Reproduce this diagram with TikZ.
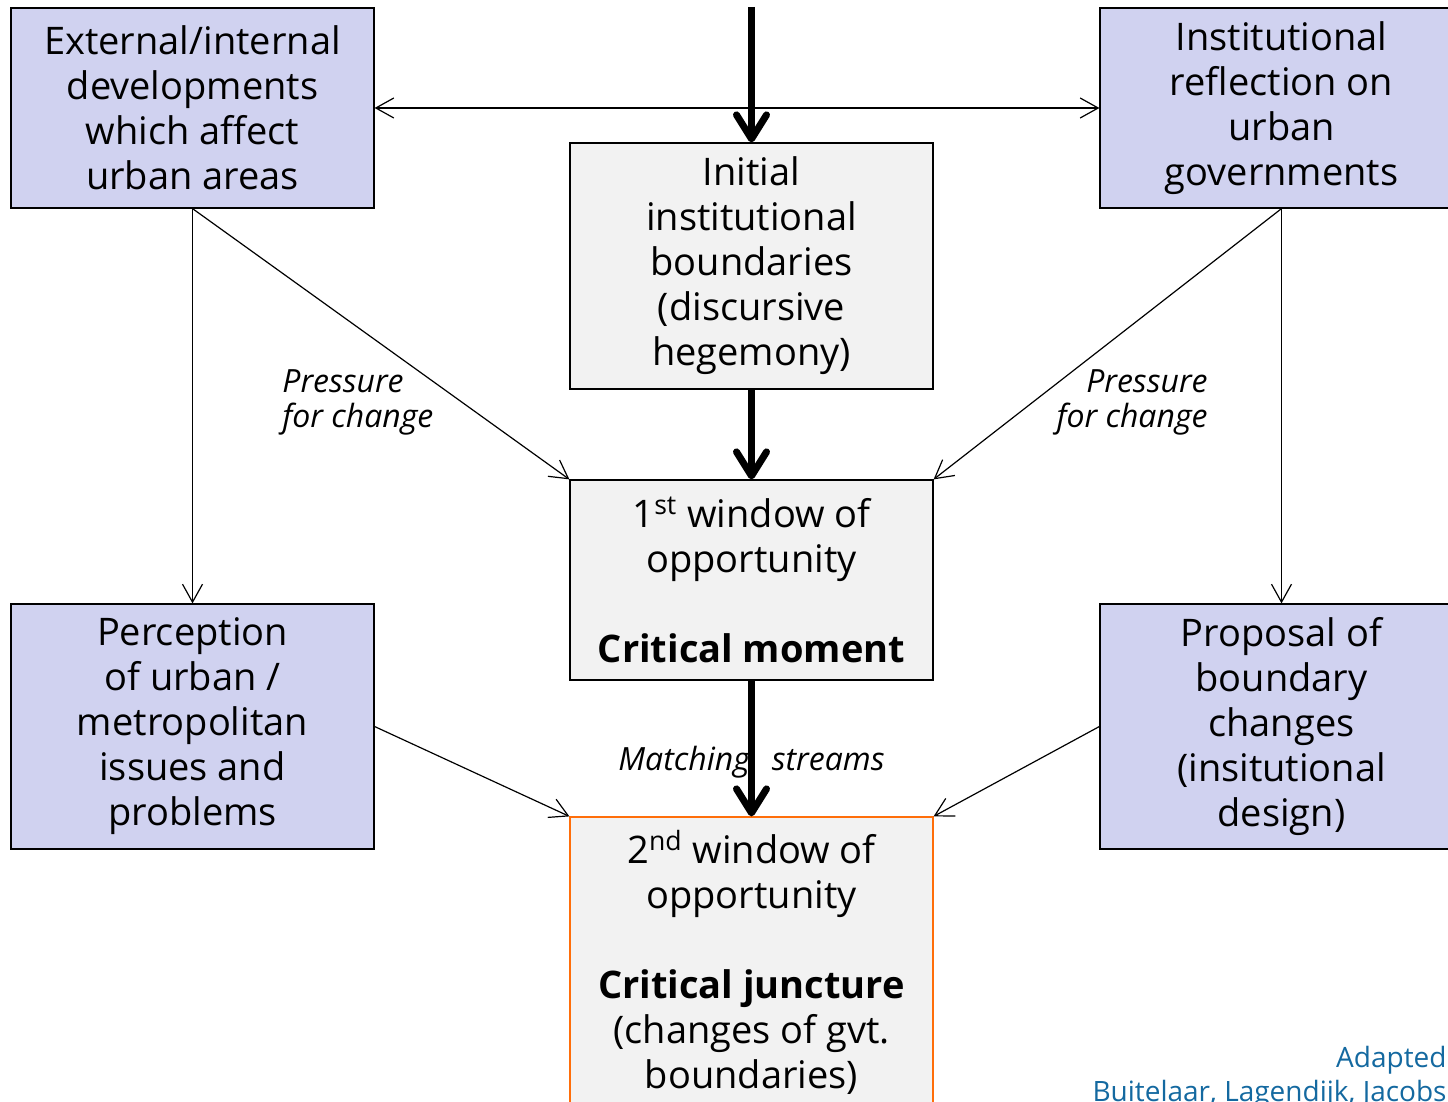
\documentclass[tikz,border=0pt]{standalone}
\usepackage{fontspec}
\setmainfont{Open Sans}
\usepackage{tikz}
\usetikzlibrary{arrows.meta, positioning, calc}
\definecolor{lilita}{RGB}{208,210,240}
\definecolor{grisito}{RGB}{242,242,242}
\definecolor{naranjita}{RGB}{255,110,10}
\definecolor{azulito}{RGB}{20,105,160}
\tikzset{>={Straight Barb[length=9pt,width=10pt]}}
\tikzset{caja/.style={draw=black, line width=0.6pt, minimum width=181.5pt, inner sep=0pt, align=center, font=\fontsize{19}{22.5}\selectfont},
	cajalila/.style={caja, fill=lilita},
	cajagris/.style={caja, fill=grisito},
	flechita/.style={->, line width=0.6pt},
	flechota/.style={-{Straight Barb[length=12pt,width=15pt,round]}, line width=3.5pt},
	etiqueta/.style={font=\fontsize{16}{17.5}\selectfont\itshape, inner sep=0pt}}

\begin{document}
\begin{tikzpicture}[x=0.5pt,y=-0.5pt]
	\useasboundingbox (0,0) rectangle (1448,1102);
	\clip (0,0) rectangle (1448,1102);

	\node [cajalila, minimum height=100pt] (desarrollos) at (192.5,108) {External/internal\\developments\\which affect\\urban areas};
	\node [cajalila, minimum height=100pt] (reflexion) at (1281.5,108) {Institutional\\reflection on\\urban\\governments};
	\node [cajagris, minimum height=123pt] (inicial) at (751.5,266) {Initial\\institutional\\boundaries\\(discursive\\hegemony)};
	\node [cajagris, minimum height=100pt] (ventana1) at (751.5,580) {1\textsuperscript{st} window of\\opportunity\\[22.5pt]\textbf{Critical moment}};
	\node [cajagris, draw=naranjita, minimum height=145.5pt] (ventana2) at (751.5,962.5) {2\textsuperscript{nd} window of\\opportunity\\[22.5pt]\textbf{Critical juncture}\\(changes of gvt.\\boundaries)};
	\node [cajalila, minimum height=122.5pt] (percepcion) at (192.5,726.5) {Perception\\of urban /\\metropolitan\\issues and\\problems};
	\node [cajalila, minimum height=122.5pt] (propuesta) at (1281.5,726.5) {Proposal of\\boundary\\changes\\(insitutional\\design)};
	\coordinate (arriba) at (751.5,7);

	% pressure for change
	\draw [flechita, <->] (desarrollos.east) -- (reflexion.west);
	\draw [flechita] (desarrollos.south) -- (percepcion.north);
	\draw [flechita] (desarrollos.south) -- (ventana1.north west);
	\draw [flechita] (reflexion.south) -- (propuesta.north);
	\draw [flechita] (reflexion.south) -- (ventana1.north east);
	\draw [flechita] (percepcion.east) -- (ventana2.north west);
	\draw [flechita] (propuesta.west) -- (ventana2.north east);
	\node [etiqueta, anchor=west, align=left] (presion1) at (282,402) {Pressure\\for change};
	\node [etiqueta, anchor=east, align=right] (presion2) at (1208,402) {Pressure\\for change};

	% main line
	\draw [flechota] (arriba) -- (inicial.north);
	\draw [flechota] (inicial.south) -- (ventana1.north);
	\draw [flechota] (ventana1.south) -- node[etiqueta, pos=0.6] (corrientes) {Matching\hspace{11pt}streams} (ventana2.north);

	\node [anchor=base east, align=right, text=azulito, inner sep=0pt, font=\fontsize{14}{17}\selectfont] (fuente) at (1447,1101) {Adapted\\Buitelaar, Lagendijk, Jacobs};
\end{tikzpicture}
\end{document}
